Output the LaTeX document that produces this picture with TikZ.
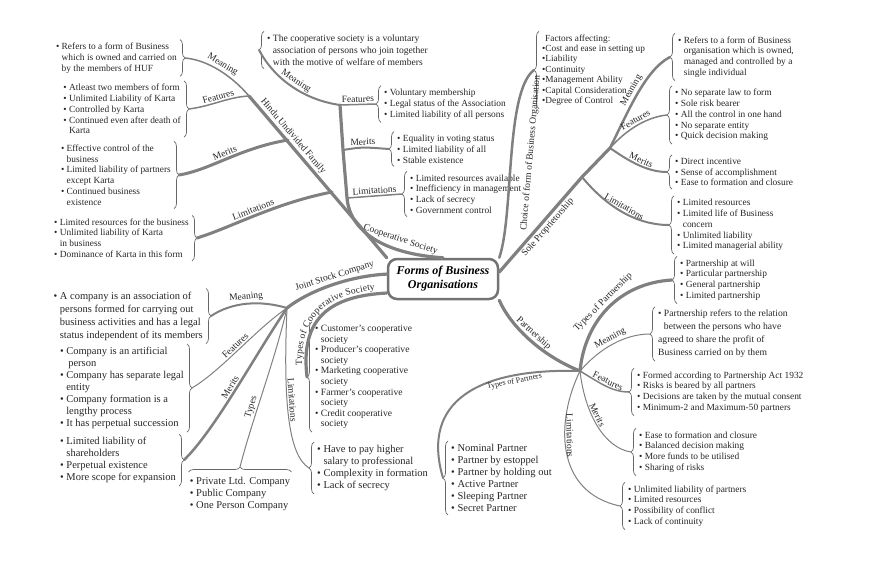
\documentclass[tikz,border=0pt]{standalone}
\usepackage{fontspec}
\setmainfont{Liberation Serif}
\usetikzlibrary{decorations.pathreplacing,decorations.text}
\newcommand{\bu}{\textbullet\ }
\newcommand{\hi}{\hphantom{\textbullet\ }}
% braces beside a text block, with a coordinate <name>t at the tip
\newcommand{\bracee}[1]{\draw[brc] ([xshift=2pt]#1.north east) -- ([xshift=2pt]#1.south east); \coordinate (#1t) at ([xshift=7pt]#1.east);}
\newcommand{\bracew}[1]{\draw[brc] ([xshift=-2pt]#1.south west) -- ([xshift=-2pt]#1.north west); \coordinate (#1t) at ([xshift=-7pt]#1.west);}

\begin{document}
\begin{tikzpicture}[x=1pt, y=-1pt,
    titlebox/.style={draw=black!55, line width=2.5pt, rounded corners=9pt, fill=white, minimum width=110pt, minimum height=40pt, align=center, font=\fontsize{12}{14}\selectfont\bfseries\itshape},
    br/.style={draw=black!50, line width=2pt, line cap=round, line join=round},
    trunk/.style={br, line width=3.2pt},
    thinbr/.style={br, line width=1pt},
    brc/.style={draw=black!60, line width=0.7pt, decorate, decoration={brace, amplitude=5pt}},
    lbl/.style={font=\fontsize{9.5}{10}\selectfont, sloped, inner sep=1.5pt, text=black!85},
    txt/.style={font=\fontsize{9.4}{10.8}\selectfont, align=left, inner xsep=1pt, inner ysep=3pt, text=black!85},
    txtL/.style={txt, font=\fontsize{10.5}{12}\selectfont}
  ]
  \useasboundingbox (0,0) rectangle (870,574);

  \node[titlebox] (root) at (443,279) {Forms of Business\\Organisations};

  % Hindu Undivided Family
  \node[txt, anchor=east] (hufM) at (178,58) {\bu Refers to a form of Business\\ \hi which is owned and carried on\\ \hi by the members of HUF};
  \node[txt, anchor=east] (hufF) at (182,109) {\bu Atleast two members of form\\ \bu Unlimited Liability of Karta\\ \bu Controlled by Karta\\ \bu Continued even after death of\\ \hi Karta};
  \node[txt, anchor=east] (hufR) at (172,175) {\bu Effective control of the\\ \hi business\\ \bu Limited liability of partners\\ \hi except Karta\\ \bu Continued business\\ \hi existence};
  \node[txt, anchor=east] (hufL) at (190,238) {\bu Limited resources for the business\\ \bu Unlimited liability of Karta\\ \hi in business\\ \bu Dominance of Karta in this form};
  \bracee{hufM} \bracee{hufF} \bracee{hufR} \bracee{hufL}

  % Cooperative Society
  \node[txt, anchor=west, font=\fontsize{9.6}{12}\selectfont] (coM) at (266,50) {\bu The cooperative society is a voluntary\\ \hi association of persons who join together\\ \hi with the motive of welfare of members};
  \node[txt, anchor=west] (coF) at (383,104) {\bu Voluntary membership\\ \bu Legal status of the Association\\ \bu Limited liability of all persons};
  \node[txt, anchor=west] (coR) at (396,149) {\bu Equality in voting status\\ \bu Limited liability of all\\ \bu Stable existence};
  \node[txt, anchor=west] (coL) at (409,194) {\bu Limited resources available\\ \bu Inefficiency in management\\ \bu Lack of secrecy\\ \bu Government control};
  \bracew{coM} \bracew{coF} \bracew{coR} \bracew{coL}

  % Choice of form
  \node[txt, anchor=west, font=\fontsize{9.3}{10.4}\selectfont] (ch) at (541,70) {\hspace{3pt}Factors affecting:\\ \textbullet Cost and ease in setting up\\ \textbullet Liability\\ \textbullet Continuity\\ \textbullet Management Ability\\ \textbullet Capital Consideration\\ \textbullet Degree of Control};
  \bracew{ch}

  % Sole Proprietorship
  \node[txt, anchor=west] (spM) at (677,57) {\bu Refers to a form of Business\\ \hi organisation which is owned,\\ \hi managed and controlled by a\\ \hi single individual};
  \node[txt, anchor=west] (spF) at (674,115) {\bu No separate law to form\\ \bu Sole risk bearer\\ \bu All the control in one hand\\ \bu No separate entity\\ \bu Quick decision making};
  \node[txt, anchor=west] (spR) at (674,172) {\bu Direct incentive\\ \bu Sense of accomplishment\\ \bu Ease to formation and closure};
  \node[txt, anchor=west] (spL) at (676,225) {\bu Limited resources\\ \bu Limited life of Business\\ \hi concern\\ \bu Unlimited liability\\ \bu Limited managerial ability};
  \bracew{spM} \bracew{spF} \bracew{spR} \bracew{spL}

  % Partnership
  \node[txt, anchor=west] (ptT) at (679,280) {\bu Partnership at will\\ \bu Particular partnership\\ \bu General partnership\\ \bu Limited partnership};
  \node[txt, anchor=west, font=\fontsize{9.6}{13}\selectfont] (ptM) at (657,334) {\bu Partnership refers to the relation\\ \hi between the persons who have\\ agreed to share the profit of\\ Business carried on by them};
  \node[txt, anchor=west] (ptF) at (636,392) {\bu Formed according to Partnership Act 1932\\ \bu Risks is beared by all partners\\ \bu Decisions are taken by the mutual consent\\ \bu Minimum-2 and Maximum-50 partners};
  \node[txt, anchor=west] (ptR) at (638,452) {\bu Ease to formation and closure\\ \bu Balanced decision making\\ \bu More funds to be utilised\\ \bu Sharing of risks};
  \node[txt, anchor=west] (ptL) at (627,506) {\bu Unlimited liability of partners\\ \bu Limited resources\\ \bu Possibility of conflict\\ \bu Lack of continuity};
  \node[txtL, anchor=west] (ptP) at (450,478) {\bu Nominal Partner\\ \bu Partner by estoppel\\ \bu Partner by holding out\\ \bu Active Partner\\ \bu Sleeping Partner\\ \bu Secret Partner};
  \bracew{ptT} \bracew{ptM} \bracew{ptF} \bracew{ptR} \bracew{ptL} \bracew{ptP}

  % Joint Stock Company
  \node[txt, anchor=east, font=\fontsize{10.5}{13}\selectfont] (jsM) at (204,316) {\bu A company is an association of\\ \hi persons formed for carrying out\\ \hi business activities and has a legal\\ \hi status independent of its members};
  \node[txtL, anchor=east] (jsF) at (185,388) {\bu Company is an artificial\\ \hi\hspace{2pt}person\\ \bu Company has separate legal\\ \hi entity\\ \bu Company formation is a\\ \hi lengthy process\\ \bu It has perpetual succession};
  \node[txtL, anchor=east] (jsR) at (177,460) {\bu Limited liability of\\ \hi shareholders\\ \bu Perpetual existence\\ \bu More scope for expansion};
  \node[txtL, anchor=north] (jsT) at (240,474) {\bu Private Ltd. Company\\ \bu Public Company\\ \bu One Person Company};
  \node[txtL, anchor=west] (jsL) at (316,468) {\bu Have to pay higher\\ \hi salary to professional\\ \bu Complexity in formation\\ \bu Lack of secrecy};
  \bracee{jsM} \bracee{jsF} \bracee{jsR} \bracew{jsL}
  \draw[brc] ([yshift=2pt]jsT.north west) -- ([yshift=2pt]jsT.north east);
  \coordinate (jsTt) at ([yshift=7pt]jsT.north);

  % Types of Cooperative Society
  \node[txt, anchor=west, font=\fontsize{9.6}{10.6}\selectfont] (tc) at (314,377) {\bu Customer's cooperative\\ \hi society\\ \bu Producer's cooperative\\ \hi society\\ \bu Marketing cooperative\\ \hi society\\ \bu Farmer's cooperative\\ \hi society\\ \bu Credit cooperative\\ \hi society};
  \bracew{tc}

  % branches
  \coordinate (hufA) at (249,96);
  \coordinate (hufB) at (288,140);
  \coordinate (hufC) at (332,192);
  \draw[trunk] (root.north west) -- node[lbl, above, pos=0.72]{Hindu Undivided Family} (hufA);
  \draw[br, line width=1.5pt] (hufA) .. controls (232,76) and (208,60) .. node[lbl, above]{Meaning} (hufMt);
  \draw[br, line width=1.5pt] (hufA) .. controls (228,97) and (212,106) .. node[lbl, above]{Features} (hufFt);
  \draw[br, line width=3pt] (hufB) .. controls (240,148) and (210,170) .. node[lbl, above]{Merits} (hufRt);
  \draw[br, line width=3pt] (hufC) .. controls (275,203) and (230,228) .. node[lbl, above]{Limitations} (hufLt);

  \coordinate (coA) at (340,105);
  \coordinate (coB) at (343,150);
  \coordinate (coC) at (347,198);
  \draw[trunk] (root.north) .. controls (385,254) and (350,232) .. node[lbl, above=3pt, pos=0.3]{Cooperative Society} (coC) -- (coB) -- (coA);
  \draw[br, line width=2pt] (coA) .. controls (305,100) and (275,80) .. node[lbl, above]{Meaning} (coMt);
  \draw[br, line width=1.5pt] (coA) -- node[lbl, above]{Features} (coFt);
  \draw[br, line width=2pt] (coB) .. controls (362,147) .. node[lbl, above]{Merits} (coRt);
  \draw[br, line width=1.5pt] (coC) .. controls (375,196) .. node[lbl, above]{Limitations} (coLt);

  \draw[br, line width=2.5pt] (root.north east) .. controls (514,215) and (505,92) .. node[lbl, below=12pt, pos=0.52]{Choice of form of Business Organisation} (cht);

  \coordinate (spA) at (582,177);
  \coordinate (spB) at (610,148);
  \draw[trunk] (root.7) -- node[lbl, below, pos=0.52]{Sole Proprietorship} (spA) -- (spB);
  \draw[br, line width=2.5pt] (spB) .. controls (628,112) and (645,70) .. node[lbl, above]{Meaning} (spMt);
  \draw[br, line width=1.5pt] (spB) .. controls (628,128) and (648,117) .. node[lbl, above]{Features} (spFt);
  \draw[br, line width=2pt] (spB) .. controls (630,162) and (648,172) .. node[lbl, above]{Merits} (spRt);
  \draw[br, line width=2pt] (spA) .. controls (605,205) and (635,225) .. node[lbl, above]{Limitations} (spLt);

  \coordinate (ptA) at (580,371);
  \draw[trunk] (root.south east) .. controls (510,325) and (540,355) .. node[lbl, above]{Partnership} (ptA);
  \draw[trunk] (ptA) .. controls (585,320) and (620,283) .. node[lbl, above, pos=0.5]{Types of Partnership} (ptTt);
  \draw[thinbr] (ptA) .. controls (600,348) and (625,334) .. node[lbl, above]{Meaning} (ptMt);
  \draw[br, line width=1.5pt] (ptA) .. controls (600,383) and (612,392) .. node[lbl, above]{Features} (ptFt);
  \draw[thinbr] (ptA) .. controls (585,415) and (605,448) .. node[lbl, above, pos=0.4]{Merits} (ptRt);
  \draw[thinbr] (ptA) .. controls (556,420) and (554,492) .. node[lbl, above, pos=0.4]{Limitations} (ptLt);
  \draw[br, line width=2pt] (ptA) .. controls (480,368) and (420,400) .. node[lbl, font=\fontsize{8}{9}\selectfont, below, pos=0.25]{Types of Partners} (ptPt);

  \coordinate (jsA) at (287,308);
  \draw[trunk] (root.175) .. controls (350,276) and (310,290) .. node[lbl, above, pos=0.45]{Joint Stock Company} (jsA);
  \draw[br, line width=2pt] (jsA) .. controls (260,300) and (232,302) .. node[lbl, above]{Meaning} (jsMt);
  \draw[thinbr] (jsA) .. controls (255,330) and (222,370) .. node[lbl, above]{Features} (jsFt);
  \draw[br, line width=2.5pt] (jsA) .. controls (255,355) and (215,430) .. node[lbl, above]{Merits} (jsRt);
  \draw[thinbr] (jsA) .. controls (275,360) and (252,420) .. node[lbl, above, pos=0.62]{Types} (jsTt);
  \draw[thinbr] (jsLt) .. controls (288,455) and (283,400) .. node[lbl, above, pos=0.6]{Limitations} (jsA);

  \draw[trunk, postaction={decorate, decoration={text along path, text align=center, raise=4pt,
      text={|\fontsize{9.5}{10}\selectfont\color{black!85}|Types of Cooperative Society}}}]
    (tct) .. controls (300,318) and (330,296) .. (root.194);
\end{tikzpicture}
\end{document}
